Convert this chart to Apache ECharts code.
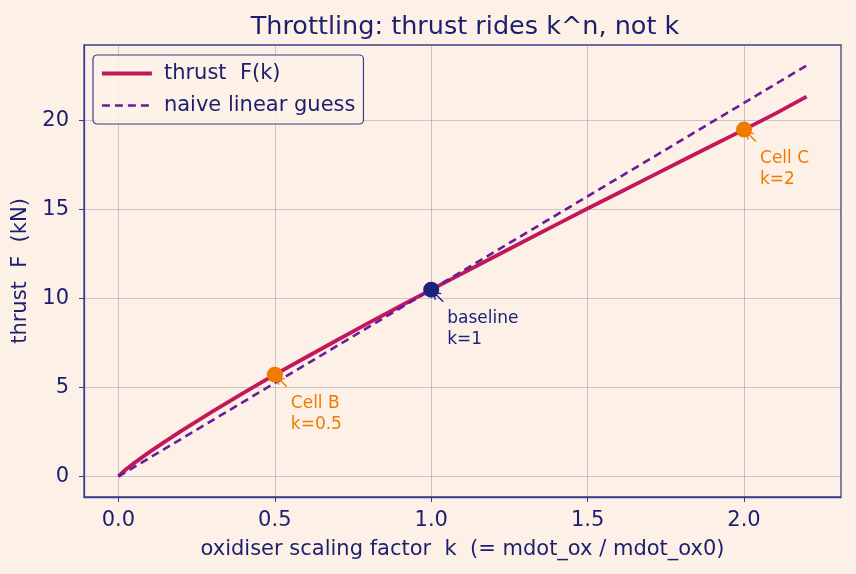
<!DOCTYPE html>
<html>
<head>
<meta charset="utf-8">
<script src="https://cdn.jsdelivr.net/npm/echarts@6/dist/echarts.min.js"></script>
<style>
  html, body { margin: 0; padding: 0; background: #fdf1e7; }
  #chart { width: 856px; height: 574px; }
</style>
</head>
<body>
<div id="chart"></div>
<script>
// values
const kValues = [0, 0.02, 0.05, 0.1, 0.15, 0.2, 0.3, 0.4, 0.5, 0.6, 0.7, 0.8, 0.9, 1.0,
                 1.1, 1.2, 1.3, 1.4, 1.5, 1.6, 1.7, 1.8, 1.9, 2.0, 2.1, 2.2];
const thrustValues = [0, 0.34, 0.75, 1.38, 1.97, 2.55, 3.65, 4.7, 5.72, 6.7, 7.67, 8.63, 9.57, 10.5,
                      11.42, 12.34, 13.25, 14.16, 15.06, 15.95, 16.84, 17.73, 18.62, 19.5, 20.4, 21.35];
const linearK = [0, 0.5, 1.0, 1.5, 2.0, 2.2];
const linearGuess = [0, 5.25, 10.5, 15.75, 21.0, 23.1];

const noteK = [0.5, 1.0, 2.0];
const noteF = [5.72, 10.5, 19.5];
const noteText = ['Cell B\nk=0.5', 'baseline\nk=1', 'Cell C\nk=2'];

const xTicks = [0, 0.5, 1, 1.5, 2];
const yTicks = [0, 5, 10, 15, 20];

const navy = '#1c1f6e';
const axisCol = '#3b3f8c';
const gridCol = 'rgba(70,55,120,0.25)';
const noteColors = ['#f07a00', '#1a237e', '#f07a00'];
const font = 'DejaVu Sans';
const fs = 21;

const chart = echarts.init(document.getElementById('chart'));

const noteData = noteK.map((k, i) => [k, noteF[i], i]);

function renderNote(params, api) {
  const p = api.coord([api.value(0), api.value(1)]);
  const c = noteColors[api.value(2)];
  const tail = [p[0] + 12, p[1] + 12];
  const head = [p[0] + 3, p[1] + 3];
  return {
    type: 'group',
    children: [
      { type: 'line', shape: { x1: tail[0], y1: tail[1], x2: head[0], y2: head[1] },
        style: { stroke: c, lineWidth: 1.4 } },
      { type: 'polyline', shape: { points: [[head[0] + 7, head[1] + 1], head, [head[0] + 1, head[1] + 7]] },
        style: { stroke: c, lineWidth: 1.4, fill: null } },
      { type: 'text', x: p[0] + 16, y: p[1] + 18,
        style: { text: noteText[api.value(2)], fill: c, font: '17px "DejaVu Sans"',
                 lineHeight: 21, verticalAlign: 'top', align: 'left' } }
    ]
  };
}

chart.setOption({
  backgroundColor: '#fdf1e7',
  textStyle: { fontFamily: font, color: navy },
  animation: false,
  title: {
    text: 'Throttling: thrust rides k^n, not k',
    left: 460, top: 9, textAlign: 'center',
    textStyle: { fontFamily: font, fontSize: 25.5, fontWeight: 'normal', color: navy }
  },
  legend: {
    left: 93, top: 55, orient: 'vertical',
    borderColor: axisCol, borderWidth: 1.2, borderRadius: 4,
    backgroundColor: 'rgba(253,241,231,0.85)',
    padding: [8, 8, 8, 7], itemGap: 11, itemWidth: 50, itemHeight: 14,
    itemStyle: { opacity: 0 },
    textStyle: { fontFamily: font, fontSize: fs, color: navy, padding: [0, 0, 0, 7] },
    data: [
      { name: 'thrust  F(k)', lineStyle: { width: 3.8 } },
      { name: 'naive linear guess', lineStyle: { width: 2.6 } }
    ]
  },
  grid: {
    left: 84, right: 15, top: 45, bottom: 77,
    show: true, borderColor: axisCol, borderWidth: 1.3, backgroundColor: 'transparent'
  },
  xAxis: {
    type: 'value', min: -0.11, max: 2.31,
    name: 'oxidiser scaling factor  k  (= mdot_ox / mdot_ox0)',
    nameLocation: 'middle', nameGap: 42,
    nameTextStyle: { fontFamily: font, fontSize: fs, color: navy },
    axisLine: { show: true, onZero: false, lineStyle: { color: axisCol, width: 1.3 } },
    axisTick: { show: true, inside: false, length: 5, customValues: xTicks, lineStyle: { color: axisCol } },
    axisLabel: { customValues: xTicks, margin: 13, fontSize: fs, color: navy, fontFamily: font,
                 formatter: v => v.toFixed(1) },
    splitLine: { show: true, lineStyle: { color: gridCol, width: 1 } }
  },
  yAxis: {
    type: 'value', min: -1.155, max: 24.255,
    name: 'thrust  F  (kN)',
    nameLocation: 'middle', nameGap: 47,
    nameTextStyle: { fontFamily: font, fontSize: fs, color: navy },
    axisLine: { show: true, onZero: false, lineStyle: { color: axisCol, width: 1.3 } },
    axisTick: { show: true, inside: false, length: 5, customValues: yTicks, lineStyle: { color: axisCol } },
    axisLabel: { customValues: yTicks, margin: 15, fontSize: fs, color: navy, fontFamily: font,
                 formatter: v => String(Math.round(v)) },
    splitLine: { show: true, lineStyle: { color: gridCol, width: 1 } }
  },
  series: [
    {
      name: 'thrust  F(k)', type: 'line', showSymbol: false, symbol: 'none', z: 2,
      data: kValues.map((k, i) => [k, thrustValues[i]]),
      lineStyle: { color: '#c2185b', width: 3.8 }, itemStyle: { color: '#c2185b' }
    },
    {
      name: 'naive linear guess', type: 'line', showSymbol: false, symbol: 'none', z: 3,
      data: linearK.map((k, i) => [k, linearGuess[i]]),
      lineStyle: { color: '#6a1b9a', width: 2.6, type: [8, 5] }, itemStyle: { color: '#6a1b9a' }
    },
    {
      name: 'notes', type: 'custom', z: 4, renderItem: renderNote,
      data: noteData, encode: { x: 0, y: 1 }, silent: true
    },
    {
      name: 'points', type: 'scatter', z: 5, symbolSize: 16,
      data: noteK.map((k, i) => [k, noteF[i]]),
      itemStyle: { color: p => noteColors[p.dataIndex], opacity: 1 }
    }
  ]
});
</script>
</body>
</html>
